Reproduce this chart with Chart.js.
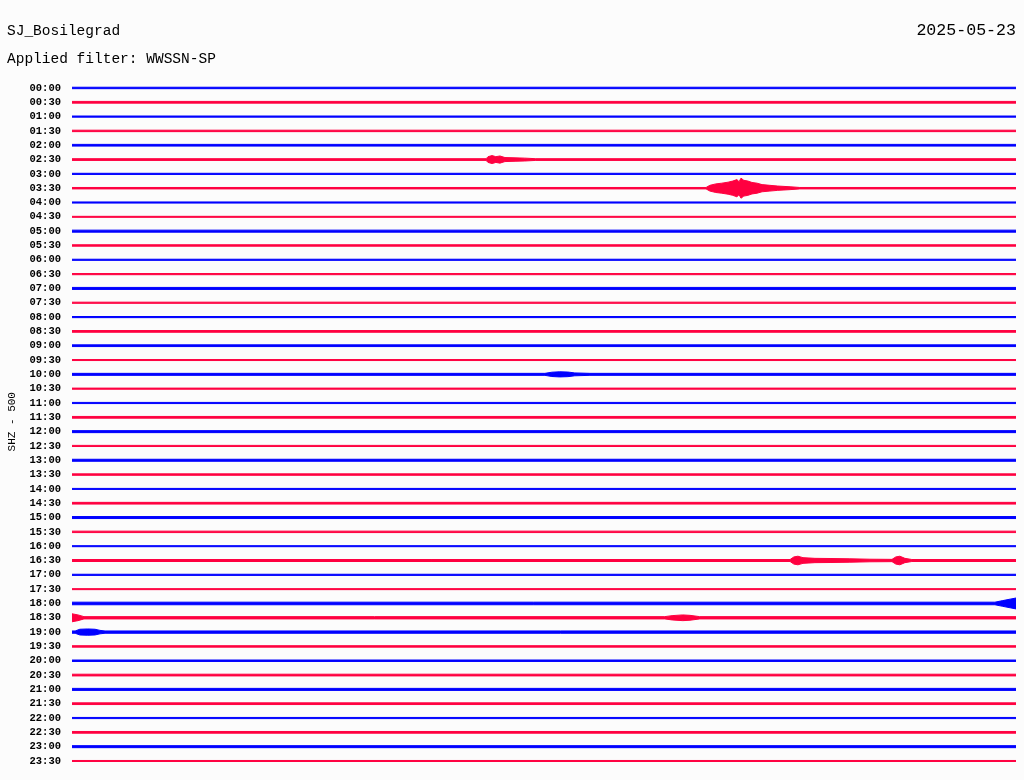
<!DOCTYPE html>
<html>
<head>
<meta charset="utf-8">
<script src="https://cdn.jsdelivr.net/npm/chart.js@4/dist/chart.umd.min.js"></script>
<style>
  body { margin: 0; background: #fcfcfc; }
  #wrap { position: relative; width: 1024px; height: 780px; }
  #wrap canvas { position: absolute; left: 0; top: 0; }
  .hdr { position: absolute; font-family: "Liberation Mono", monospace; color: #000; white-space: pre; line-height: 15px; }
</style>
</head>
<body>
<div id="wrap">
  <canvas id="heli" width="1024" height="780"></canvas>
  <div class="hdr" style="left:7px; top:24px; font-size:14.5px;">SJ_Bosilegrad</div>
  <div class="hdr" style="left:7px; top:52px; font-size:14.5px;">Applied filter: WWSSN-SP</div>
  <div class="hdr" style="right:8px; top:23px; font-size:16.6px;">2025-05-23</div>
</div>
<script>
// row labels (start time of each 30 min trace)
let rowLabels = [
  "00:00","00:30","01:00","01:30","02:00","02:30","03:00","03:30",
  "04:00","04:30","05:00","05:30","06:00","06:30","07:00","07:30",
  "08:00","08:30","09:00","09:30","10:00","10:30","11:00","11:30",
  "12:00","12:30","13:00","13:30","14:00","14:30","15:00","15:30",
  "16:00","16:30","17:00","17:30","18:00","18:30","19:00","19:30",
  "20:00","20:30","21:00","21:30","22:00","22:30","23:00","23:30",
];

// background noise half-amplitude of each trace (row units)
let noiseAmp = [
  0.05, 0.06, 0.04, 0.05, 0.06, 0.06, 0.04, 0.05,
  0.04, 0.035, 0.07, 0.05, 0.04, 0.04, 0.07, 0.04,
  0.04, 0.06, 0.06, 0.035, 0.07, 0.04, 0.04, 0.06,
  0.07, 0.04, 0.07, 0.05, 0.035, 0.06, 0.07, 0.05,
  0.035, 0.07, 0.04, 0.035, 0.09, 0.08, 0.08, 0.05,
  0.05, 0.06, 0.07, 0.06, 0.04, 0.06, 0.07, 0.035,
];

// events: which row, minutes into the trace, envelope half-amplitude
let eventRows = [5, 7, 20, 33, 36, 37, 37, 38];
let eventTimes = [
  [13.16, 13.22, 13.35, 13.47, 13.6, 13.76, 14.08, 14.39, 14.74],
  [20.15, 20.27, 20.46, 20.65, 20.85, 21.0, 21.13, 21.2, 21.26, 21.35, 21.48, 21.61, 21.77, 21.93, 22.18, 22.43, 22.82, 23.13],
  [15.03, 15.25, 15.5, 15.76, 15.98, 16.46],
  [22.82, 22.94, 23.07, 23.23, 23.61, 24.09, 24.72, 25.36, 26.06, 26.18, 26.31, 26.47, 26.69],
  [29.33, 29.58, 29.81, 30],
  [0, 0.19, 0.38],
  [18.84, 19.07, 19.41, 19.64, 19.95],
  [0.1, 0.25, 0.5, 0.73, 0.89, 1.05],
];
let eventAmps = [
  [0.06, 0.2, 0.28, 0.2, 0.25, 0.14, 0.12, 0.1, 0.06],
  [0.05, 0.2, 0.3, 0.35, 0.42, 0.5, 0.6, 0.45, 0.7, 0.55, 0.5, 0.4, 0.35, 0.25, 0.2, 0.15, 0.1, 0.05],
  [0.07, 0.15, 0.18, 0.16, 0.1, 0.07],
  [0.07, 0.25, 0.3, 0.2, 0.15, 0.14, 0.12, 0.09, 0.08, 0.25, 0.3, 0.15, 0.07],
  [0.09, 0.2, 0.3, 0.38],
  [0.28, 0.2, 0.08],
  [0.08, 0.15, 0.2, 0.17, 0.08],
  [0.08, 0.2, 0.22, 0.2, 0.12, 0.08],
];

let traceColors = ["#0000ff", "#ff0040"];

// build envelope points for every row
let datasets = [];
rowLabels.forEach(function (label, r) {
  let pts = [];
  eventRows.forEach(function (er, k) {
    if (er === r) {
      eventTimes[k].forEach(function (t, j) {
        pts.push({ t: t, a: eventAmps[k][j] });
      });
    }
  });
  pts.sort(function (p, q) { return p.t - q.t; });
  if (!pts.length || pts[0].t > 0) pts.unshift({ t: 0, a: noiseAmp[r] });
  if (pts[pts.length - 1].t < 30) pts.push({ t: 30, a: noiseAmp[r] });

  let col = traceColors[r % 2];
  datasets.push({
    label: label,
    data: pts.map((p) => ({ x: p.t, y: r - p.a })),
    borderColor: col,
    backgroundColor: col,
    borderWidth: 1,
    pointRadius: 0,
    fill: "+1",
  });
  datasets.push({
    label: label + "_lo",
    data: pts.map((p) => ({ x: p.t, y: r + p.a })),
    borderColor: col,
    backgroundColor: col,
    borderWidth: 1,
    pointRadius: 0,
    fill: false,
  });
});

let chart = new Chart(document.getElementById("heli"), {
  type: "line",
  data: { datasets: datasets },
  options: {
    responsive: false,
    animation: false,
    events: [],
    layout: { padding: { top: 80.8, bottom: 5.8, left: 0, right: 8 } },
    plugins: {
      legend: { display: false },
      tooltip: { enabled: false },
    },
    scales: {
      x: { type: "linear", min: 0, max: 30, display: false },
      y: {
        type: "linear",
        reverse: true,
        min: -0.5,
        max: 47.12,
        afterBuildTicks: function (scale) {
          scale.ticks = rowLabels.map((l, i) => ({ value: i }));
        },
        afterFit: function (scale) {
          scale.width = 72;
        },
        ticks: {
          autoSkip: false,
          padding: 11,
          color: "#000",
          font: { family: "Liberation Mono", size: 10.5, weight: "bold" },
          callback: function (v) {
            return rowLabels[v] || "";
          },
        },
        grid: { display: false, drawTicks: false },
        border: { display: false },
        title: {
          display: true,
          text: "SHZ - 500",
          color: "#000",
          font: { family: "Liberation Mono", size: 11 },
          padding: { top: 5, bottom: 0 },
        },
      },
    },
  },
});
</script>
</body>
</html>
